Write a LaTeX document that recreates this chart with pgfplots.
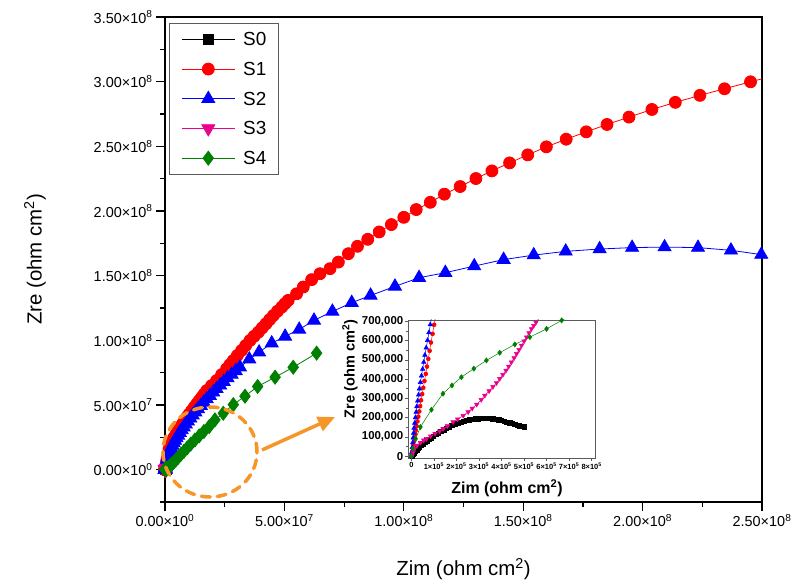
\documentclass[border=0pt]{standalone}
\usepackage{fontspec}
\setmainfont{Liberation Sans}
\usepackage{pgfplots}
\usepackage{pgfplotstable}
\pgfplotsset{compat=1.18}
\usetikzlibrary{arrows.meta}

\definecolor{sgreen}{RGB}{0,128,0}
\definecolor{annot}{RGB}{247,150,40}
\definecolor{frame}{RGB}{90,90,90}

% Nyquist data, impedance in ohm cm^2 (x = Zim, y = Zre)
\pgfplotstableread{
x y
5e3 0
8e3 8e3
1.2e4 1.6e4
1.7e4 2.4e4
2.3e4 3.2e4
2.9e4 4.0e4
3.6e4 4.8e4
4.3e4 5.6e4
5.1e4 6.4e4
5.9e4 7.2e4
6.8e4 8.0e4
7.7e4 8.8e4
8.7e4 9.6e4
9.7e4 1.04e5
1.08e5 1.12e5
1.19e5 1.20e5
1.31e5 1.28e5
1.43e5 1.36e5
1.55e5 1.44e5
1.67e5 1.51e5
1.80e5 1.59e5
1.93e5 1.66e5
2.06e5 1.72e5
2.19e5 1.77e5
2.32e5 1.81e5
2.45e5 1.85e5
2.58e5 1.88e5
2.71e5 1.91e5
2.84e5 1.93e5
2.97e5 1.945e5
3.10e5 1.955e5
3.23e5 1.96e5
3.36e5 1.96e5
3.49e5 1.95e5
3.62e5 1.93e5
3.75e5 1.91e5
3.88e5 1.88e5
4.00e5 1.85e5
4.12e5 1.81e5
4.24e5 1.77e5
4.36e5 1.73e5
4.48e5 1.69e5
4.59e5 1.65e5
4.70e5 1.61e5
4.80e5 1.58e5
4.90e5 1.55e5
5.00e5 1.52e5
}\sZero

\pgfplotstableread{
x y
0 0
2e3 1.0e4
4e3 2.5e4
7e3 4.2e4
9e3 6.0e4
1.2e4 7.8e4
1.4e4 9.6e4
1.7e4 1.15e5
2.0e4 1.35e5
2.3e4 1.56e5
2.7e4 1.80e5
3.1e4 2.05e5
3.5e4 2.32e5
3.9e4 2.60e5
4.3e4 2.90e5
4.8e4 3.22e5
5.3e4 3.55e5
5.8e4 3.90e5
6.4e4 4.27e5
6.9e4 4.65e5
7.5e4 5.05e5
8.1e4 5.47e5
8.7e4 5.90e5
9.4e4 6.35e5
1.01e5 6.82e5
1.08e5 7.30e5
1.16e5 7.80e5
1.6e5 1.15e6
2.3e5 1.8e6
3.2e5 2.7e6
4.5e5 4.0e6
6.5e5 6.0e6
9.0e5 8.6e6
1.25e6 1.2e7
1.7e6 1.6e7
2.1e6 1.99e7
2.9e6 2.25e7
3.8e6 2.50e7
4.7e6 2.76e7
5.6e6 3.02e7
6.45e6 3.27e7
7.3e6 3.53e7
8.2e6 3.79e7
9.1e6 4.05e7
1.015e7 4.31e7
1.12e7 4.57e7
1.225e7 4.83e7
1.33e7 5.09e7
1.435e7 5.35e7
1.54e7 5.60e7
1.645e7 5.86e7
1.75e7 6.12e7
1.95e7 6.50e7
2.16e7 6.89e7
2.37e7 7.35e7
2.58e7 7.80e7
2.72e7 8.12e7
2.86e7 8.44e7
3.03e7 8.83e7
3.21e7 9.22e7
3.38e7 9.60e7
3.56e7 9.99e7
3.73e7 1.031e8
3.91e7 1.063e8
4.07e7 1.096e8
4.23e7 1.128e8
4.38e7 1.160e8
4.54e7 1.192e8
4.71e7 1.225e8
4.89e7 1.257e8
5.02e7 1.283e8
5.16e7 1.309e8
5.51e7 1.360e8
5.79e7 1.412e8
6.14e7 1.469e8
6.49e7 1.515e8
6.91e7 1.554e8
7.26e7 1.605e8
7.68e7 1.670e8
8.06e7 1.727e8
8.49e7 1.781e8
8.97e7 1.838e8
9.48e7 1.895e8
1.000e8 1.951e8
1.052e8 2.011e8
1.111e8 2.067e8
1.170e8 2.130e8
1.236e8 2.189e8
1.302e8 2.251e8
1.369e8 2.310e8
1.443e8 2.372e8
1.519e8 2.434e8
1.597e8 2.496e8
1.680e8 2.555e8
1.764e8 2.612e8
1.851e8 2.669e8
1.943e8 2.726e8
2.039e8 2.785e8
2.137e8 2.840e8
2.240e8 2.894e8
2.343e8 2.945e8
2.452e8 2.999e8
2.560e8 3.050e8
}\sOne

\pgfplotstableread{
x y
0 0
2e3 2.0e4
4e3 4.5e4
6e3 7.0e4
8e3 9.5e4
1.0e4 1.20e5
1.2e4 1.46e5
1.5e4 1.72e5
1.8e4 2.00e5
2.1e4 2.28e5
2.4e4 2.57e5
2.8e4 2.87e5
3.2e4 3.18e5
3.6e4 3.50e5
4.0e4 3.83e5
4.5e4 4.17e5
5.0e4 4.52e5
5.5e4 4.88e5
6.0e4 5.25e5
6.6e4 5.63e5
7.2e4 6.02e5
7.8e4 6.42e5
8.4e4 6.83e5
9.0e4 7.25e5
9.7e4 7.70e5
1.3e5 1.05e6
1.8e5 1.5e6
2.6e5 2.3e6
3.8e5 3.6e6
5.5e5 5.4e6
8.0e5 7.8e6
1.1e6 1.03e7
1.45e6 1.19e7
1.8e6 1.35e7
2.2e6 1.52e7
2.6e6 1.69e7
3.1e6 1.87e7
3.6e6 2.06e7
4.2e6 2.25e7
4.8e6 2.45e7
5.5e6 2.65e7
6.2e6 2.86e7
7.0e6 3.07e7
7.8e6 3.29e7
8.7e6 3.51e7
9.6e6 3.74e7
1.06e7 3.97e7
1.16e7 4.21e7
1.27e7 4.45e7
1.38e7 4.70e7
1.50e7 4.95e7
1.62e7 5.20e7
1.75e7 5.46e7
1.88e7 5.72e7
2.02e7 5.98e7
2.16e7 6.25e7
2.31e7 6.52e7
2.46e7 6.80e7
2.62e7 7.08e7
2.79e7 7.36e7
2.96e7 7.64e7
3.14e7 7.92e7
3.53e7 8.54e7
3.94e7 9.08e7
4.47e7 9.78e7
5.03e7 1.030e8
5.62e7 1.084e8
6.24e7 1.154e8
7.01e7 1.223e8
7.82e7 1.291e8
8.61e7 1.347e8
9.63e7 1.417e8
1.064e8 1.484e8
1.174e8 1.523e8
1.295e8 1.574e8
1.418e8 1.624e8
1.544e8 1.659e8
1.678e8 1.688e8
1.820e8 1.706e8
1.956e8 1.717e8
2.092e8 1.721e8
2.232e8 1.717e8
2.370e8 1.696e8
2.497e8 1.663e8
2.600e8 1.630e8
}\sTwo

\pgfplotstableread{
x y
0 0
3e3 5e3
8e3 2.0e4
1.5e4 4.0e4
2.5e4 5.5e4
4.0e4 7.0e4
5.5e4 8.2e4
6.7e4 9.0e4
8.5e4 1.04e5
1.05e5 1.17e5
1.25e5 1.30e5
1.41e5 1.42e5
1.60e5 1.56e5
1.85e5 1.77e5
2.05e5 1.92e5
2.30e5 2.10e5
2.52e5 2.29e5
2.70e5 2.48e5
2.90e5 2.68e5
3.10e5 2.93e5
3.26e5 3.15e5
3.45e5 3.38e5
3.62e5 3.60e5
3.78e5 3.80e5
3.92e5 4.02e5
4.06e5 4.23e5
4.20e5 4.45e5
4.32e5 4.66e5
4.44e5 4.88e5
4.56e5 5.10e5
4.67e5 5.32e5
4.78e5 5.53e5
4.89e5 5.75e5
5.00e5 5.97e5
5.11e5 6.18e5
5.22e5 6.40e5
5.33e5 6.61e5
5.43e5 6.78e5
5.53e5 6.95e5
5.63e5 7.10e5
5.80e5 7.40e5
6.00e5 7.70e5
6.50e5 8.50e5
7.20e5 9.60e5
8.20e5 1.12e6
9.50e5 1.32e6
}\sThree

\pgfplotstableread{
x y
0 0
7e3 3.8e4
1.9e4 9.0e4
4.0e4 1.51e5
8.9e4 2.41e5
1.40e5 3.24e5
1.80e5 3.67e5
2.22e5 4.10e5
2.77e5 4.54e5
3.33e5 4.97e5
3.92e5 5.37e5
4.59e5 5.80e5
5.26e5 6.18e5
6.00e5 6.61e5
6.67e5 7.05e5
7.40e5 7.50e5
8.30e5 8.00e5
9.50e5 9.50e5
1.15e6 1.25e6
1.40e6 1.70e6
1.80e6 2.40e6
2.30e6 3.30e6
2.90e6 4.40e6
3.60e6 5.70e6
4.50e6 7.40e6
5.50e6 9.40e6
6.60e6 1.17e7
7.90e6 1.42e7
9.30e6 1.69e7
1.08e7 1.98e7
1.25e7 2.29e7
1.43e7 2.61e7
1.63e7 2.95e7
1.85e7 3.33e7
2.09e7 3.85e7
2.44e7 4.36e7
2.86e7 5.03e7
3.35e7 5.68e7
3.88e7 6.43e7
4.61e7 7.15e7
5.37e7 7.92e7
6.35e7 9.01e7
}\sFour

\begin{document}
\begin{tikzpicture}
\path[use as bounding box] (0,0) rectangle (798bp,588bp);

% main Nyquist plot
\begin{axis}[
  at={(165bp,86bp)}, anchor=south west,
  width=597bp, height=485bp, scale only axis,
  xmin=0, xmax=2.5e8, ymin=-2.5e7, ymax=3.5e8,
  scaled ticks=false,
  axis line style={line width=1.5bp, black},
  tick align=outside, tick pos=left,
  major tick length=9bp, minor tick length=5bp,
  every tick/.style={line width=1.2bp, black},
  xtick={0,5e7,1e8,1.5e8,2e8,2.5e8},
  minor xtick={2.5e7,7.5e7,1.25e8,1.75e8,2.25e8},
  xticklabels={0.00×10\textsuperscript{0},5.00×10\textsuperscript{7},1.00×10\textsuperscript{8},1.50×10\textsuperscript{8},2.00×10\textsuperscript{8},2.50×10\textsuperscript{8}},
  ytick={0,5e7,1e8,1.5e8,2e8,2.5e8,3e8,3.5e8},
  minor ytick={-2.5e7,2.5e7,7.5e7,1.25e8,1.75e8,2.25e8,2.75e8,3.25e8},
  yticklabels={0.00×10\textsuperscript{0},5.00×10\textsuperscript{7},1.00×10\textsuperscript{8},1.50×10\textsuperscript{8},2.00×10\textsuperscript{8},2.50×10\textsuperscript{8},3.00×10\textsuperscript{8},3.50×10\textsuperscript{8}},
  ticklabel style={font=\fontsize{14.5}{16}\selectfont},
  xlabel={Zim (ohm cm\textsuperscript{2})},
  ylabel={Zre (ohm cm\textsuperscript{2})},
  label style={font=\fontsize{20.5}{24}\selectfont},
  xlabel style={at={(axis description cs:0.5,0)}, anchor=center, yshift=-67bp},
  ylabel style={at={(axis description cs:-0.2178,0.5)}, anchor=center},
  legend image code/.code={\draw[mark repeat=2,mark phase=2] plot coordinates {(0bp,0bp) (26.5bp,0bp) (53bp,0bp)};},
  legend style={at={(0.0067,0.9876)}, anchor=north west,
    draw=frame, line width=0.8bp, fill=white,
    font=\fontsize{19}{21}\selectfont,
    inner xsep=12bp, inner ysep=6.5bp, row sep=10.8bp, column sep=8bp,
    nodes={inner sep=0pt, text height=15.9bp, text depth=3bp}},
  legend cell align=left,
]
\addplot[black, line width=0.8bp, mark=square*, mark size=5bp] table {\sZero};
\addplot[red, line width=0.8bp, mark=*, mark size=6bp] table {\sOne};
\addplot[blue, line width=0.8bp, mark=triangle*, mark size=7.5bp] table {\sTwo};
\addplot[magenta, line width=0.8bp, mark=triangle*, mark size=7.5bp, mark options={rotate=180}] table {\sThree};
\addplot[sgreen, line width=0.8bp, mark=diamond*, mark size=7bp] table {\sFour};
\legend{S0,S1,S2,S3,S4}
\end{axis}

% inset: low-impedance region
\begin{axis}[
  at={(408bp,130bp)}, anchor=south west,
  width=187bp, height=138bp, scale only axis,
  xmin=-1.5e4, xmax=8.15e5, ymin=-1e4, ymax=7.07e5,
  restrict x to domain=-1e6:2e6, restrict y to domain=-1e6:3e6,
  scaled ticks=false,
  axis background/.style={fill=white},
  axis line style={line width=0.7bp, frame},
  tick align=outside, tick pos=left,
  major tick length=3bp, minor tick length=1.8bp,
  every tick/.style={line width=0.6bp, frame},
  xtick={0,1e5,2e5,3e5,4e5,5e5,6e5,7e5,8e5},
  xticklabels={0,1×10\textsuperscript{5},2×10\textsuperscript{5},3×10\textsuperscript{5},4×10\textsuperscript{5},5×10\textsuperscript{5},6×10\textsuperscript{5},7×10\textsuperscript{5},8×10\textsuperscript{5}},
  xticklabel style={font=\bfseries\fontsize{7.5}{8}\selectfont, inner sep=1.5bp},
  ytick={0,1e5,2e5,3e5,4e5,5e5,6e5,7e5},
  minor y tick num=1,
  yticklabels={0,{100,000},{200,000},{300,000},{400,000},{500,000},{600,000},{700,000}},
  yticklabel style={font=\bfseries\fontsize{11.5}{12}\selectfont, inner sep=1.5bp},
  xlabel={Zim (ohm cm\textsuperscript{2})},
  ylabel={Zre (ohm cm\textsuperscript{2})},
  xlabel style={font=\bfseries\fontsize{16}{18}\selectfont, at={(axis description cs:0.5,0)}, anchor=center, yshift=-30.5bp, xshift=5.5bp},
  ylabel style={font=\bfseries\fontsize{14.6}{16}\selectfont, at={(axis description cs:-0.310,0.645)}, anchor=center},
]
\addplot[black, line width=0.5bp, mark=square*, mark size=2.2bp] table {\sZero};
\addplot[red, line width=0.5bp, mark=*, mark size=2bp] table {\sOne};
\addplot[blue, line width=0.5bp, mark=triangle*, mark size=2.6bp] table {\sTwo};
\addplot[magenta, line width=0.5bp, mark=triangle*, mark size=2.6bp, mark options={rotate=180}] table {\sThree};
\addplot[sgreen, line width=0.5bp, mark=diamond*, mark size=2.6bp] table {\sFour};
\end{axis}

% zoom marker: dashed ring round the origin and arrow to the inset
\draw[annot, line width=3.5bp, dash pattern=on 9bp off 7bp, line cap=round]
  (210bp,136bp) ellipse [x radius=47bp, y radius=45bp];
\draw[annot, line width=3.5bp, -{Triangle[length=17bp,width=15bp]}]
  (262bp,138bp) -- (335bp,171bp);
\end{tikzpicture}
\end{document}
